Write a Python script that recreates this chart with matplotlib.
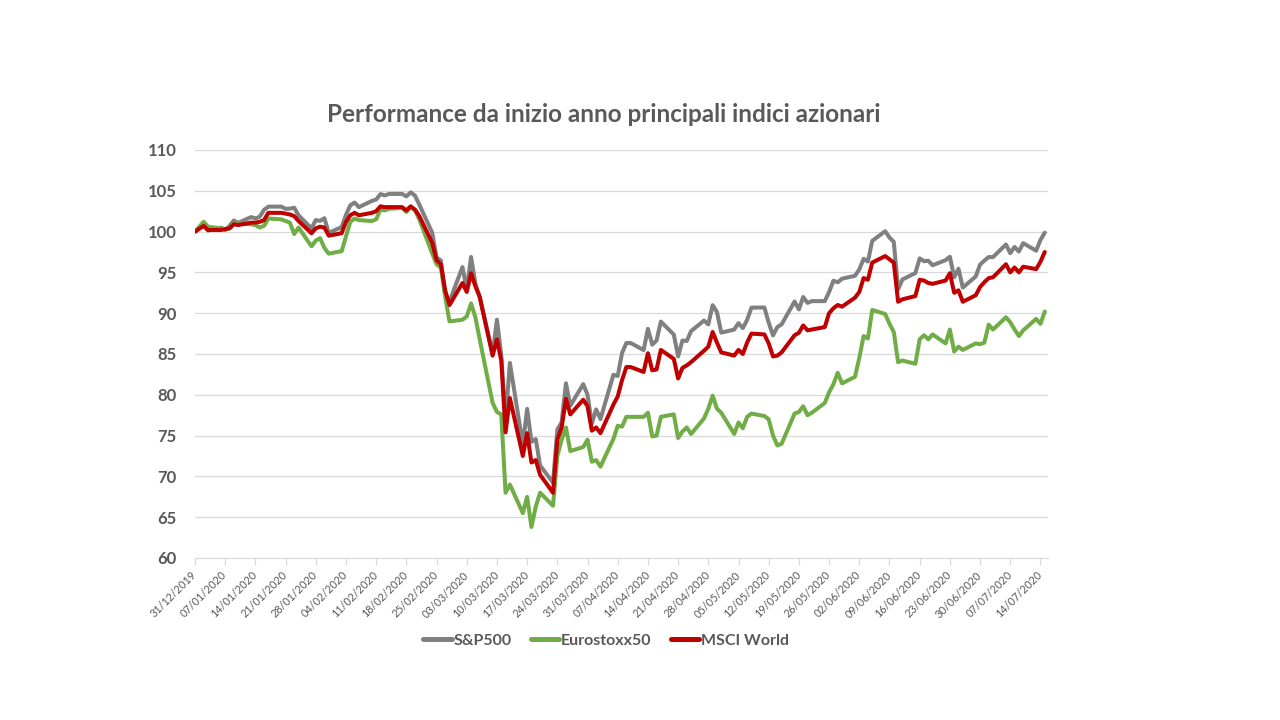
import matplotlib
matplotlib.use("Agg")
import matplotlib.pyplot as plt
import pandas as pd

plt.rcParams['font.family'] = ['Lato', 'DejaVu Sans']

# giorni lavorativi dal 31/12/2019 al 15/07/2020 (senza il 1 gennaio)
dates = pd.bdate_range('2019-12-31', '2020-07-15')
dates = dates[dates != pd.Timestamp('2020-01-01')]

sp500 = [
    100.0,
    # gen
    100.84, 100.13, 100.48, 100.20, 100.69, 101.36, 101.07, 101.78, 101.62, 101.81,
    102.66, 103.06, 103.06, 102.79, 102.82, 102.93, 102.00, 100.40, 101.41, 101.32,
    101.64, 99.84,
    # feb
    100.56, 102.07, 103.22, 103.56, 103.00, 103.76, 103.93, 104.60, 104.43, 104.62,
    104.62, 104.32, 104.81, 104.41, 103.31, 99.85, 96.83, 96.46, 92.20, 91.44,
    # mar
    95.65, 92.96, 96.89, 93.60, 92.00, 85.01, 89.21, 84.85, 76.78, 83.91,
    73.86, 78.28, 74.23, 74.58, 71.34, 69.25, 75.75, 76.62, 81.41, 78.66,
    81.30, 80.00,
    # apr
    76.47, 78.21, 77.03, 82.45, 82.31, 85.12, 86.35, 86.35, 85.48, 88.09,
    86.15, 86.65, 88.97, 87.38, 84.70, 86.65, 86.60, 87.80, 89.10, 88.63,
    90.98, 90.15,
    # mag
    87.62, 87.99, 88.78, 88.17, 89.18, 90.68, 90.70, 88.84, 87.28, 88.29,
    88.64, 91.43, 90.47, 91.98, 91.26, 91.48, 91.48, 92.60, 93.98, 93.78,
    94.23,
    # giu
    94.58, 95.36, 96.66, 96.33, 98.86, 100.05, 99.27, 98.74, 92.92, 94.13,
    94.92, 96.72, 96.37, 96.43, 95.88, 96.50, 96.92, 94.41, 95.45, 93.14,
    94.50, 95.96,
    # lug
    96.44, 96.88, 96.88, 98.42, 97.36, 98.12, 97.56, 98.58, 97.66, 98.97,
    99.87,
]

eurostoxx50 = [
    100.0,
    # gen
    101.2, 100.6, 100.4, 100.3, 100.4, 101.0, 101.0, 100.9, 100.8, 100.5,
    100.7, 101.6, 101.5, 101.3, 101.1, 99.7, 100.5, 98.2, 98.9, 99.2,
    98.0, 97.3,
    # feb
    97.6, 99.4, 101.2, 101.6, 101.4, 101.3, 101.5, 102.7, 102.6, 102.8,
    102.9, 102.4, 103.0, 102.6, 101.5, 97.3, 96.0, 95.6, 92.0, 89.0,
    # mar
    89.2, 89.6, 91.2, 89.5, 86.8, 79.0, 77.9, 77.6, 68.0, 69.0,
    65.5, 67.5, 63.8, 66.3, 68.0, 66.4, 72.5, 74.5, 76.0, 73.1,
    73.6, 74.5,
    # apr
    71.8, 72.0, 71.2, 74.6, 76.2, 76.1, 77.3, 77.3, 77.3, 77.8,
    74.9, 75.0, 77.3, 77.6, 74.7, 75.5, 76.0, 75.2, 77.1, 78.3,
    79.9, 78.3,
    # mag
    77.8, 75.2, 76.6, 75.9, 77.3, 77.7, 77.4, 77.0, 75.0, 73.8,
    74.0, 77.7, 77.9, 78.6, 77.5, 77.8, 79.0, 80.3, 81.3, 82.7,
    81.4,
    # giu
    82.2, 84.5, 87.2, 86.9, 90.4, 89.9, 88.7, 87.7, 84.0, 84.2,
    83.8, 86.8, 87.3, 86.8, 87.4, 86.3, 88.0, 85.3, 85.9, 85.5,
    86.3, 86.2,
    # lug
    86.4, 88.6, 88.0, 89.5, 88.9, 88.0, 87.2, 87.9, 89.3, 88.7,
    90.2,
]

msci_world = [
    100.0,
    # gen
    100.7, 100.2, 100.2, 100.3, 100.4, 100.9, 100.8, 101.1, 101.1, 101.2,
    101.4, 102.3, 102.3, 102.2, 102.1, 101.9, 101.3, 99.8, 100.4, 100.6,
    100.5, 99.5,
    # feb
    99.8, 101.2, 102.0, 102.3, 102.0, 102.3, 102.5, 103.1, 103.0, 103.0,
    103.0, 102.6, 103.1, 102.7, 101.9, 98.6, 96.5, 96.0, 92.8, 91.0,
    # mar
    93.7, 92.6, 94.9, 93.3, 92.0, 84.8, 86.8, 84.2, 75.4, 79.6,
    72.5, 75.3, 71.7, 72.0, 70.2, 68.0, 74.5, 76.0, 79.5, 77.6,
    79.4, 78.6,
    # apr
    75.6, 76.0, 75.3, 78.8, 79.8, 81.8, 83.4, 83.4, 82.8, 85.1,
    83.0, 83.1, 85.5, 84.4, 82.0, 83.3, 83.6, 84.0, 85.4, 85.9,
    87.7, 86.4,
    # mag
    85.2, 84.8, 85.5, 85.0, 86.4, 87.5, 87.4, 86.3, 84.7, 84.8,
    85.2, 87.3, 87.6, 88.5, 87.9, 88.0, 88.3, 90.0, 90.6, 91.0,
    90.8,
    # giu
    91.9, 92.6, 94.3, 94.1, 96.2, 97.0, 96.6, 96.2, 91.4, 91.7,
    92.1, 94.1, 94.0, 93.7, 93.6, 94.0, 94.9, 92.5, 92.8, 91.4,
    92.2, 93.2,
    # lug
    93.8, 94.3, 94.4, 96.0, 95.0, 95.6, 95.0, 95.7, 95.4, 96.3,
    97.5,
]

series = [
    ("S&P500", sp500, "#808080"),
    ("Eurostoxx50", eurostoxx50, "#70AD47"),
    ("MSCI World", msci_world, "#C00000"),
]

tick_dates = pd.date_range('2019-12-31', '2020-07-14', freq='7D')
tick_labels = [d.strftime('%d/%m/%Y') for d in tick_dates]

TEXT = "#595959"

fig = plt.figure(figsize=(12.8, 7.2), dpi=100)
ax = fig.add_axes([195 / 1280, 1 - 558 / 720, (1048 - 195) / 1280, (558 - 150) / 720])

for name, vals, col in series:
    ax.plot(dates, vals, color=col, lw=2.9, label=name,
            solid_joinstyle='round', solid_capstyle='round')

ax.set_ylim(60, 110)
ax.set_yticks(range(60, 111, 5))
ax.set_xlim(pd.Timestamp('2019-12-31'), pd.Timestamp('2020-07-15 18:00'))
ax.set_xticks(tick_dates)
ax.set_xticklabels(tick_labels, rotation=45, ha='right', va='center',
                   rotation_mode='anchor', fontsize=7.8, color=TEXT)

ax.grid(axis='y', color='#d9d9d9', lw=0.9)
ax.set_axisbelow(True)
for s in ['top', 'right', 'left']:
    ax.spines[s].set_visible(False)
ax.spines['bottom'].set_color('#d9d9d9')
ax.tick_params(axis='y', length=0, pad=13, labelsize=12, labelcolor=TEXT)
ax.tick_params(axis='x', length=5, color='#d9d9d9', direction='out', pad=6)
for lbl in ax.get_yticklabels():
    lbl.set_fontweight('bold')

fig.text(604 / 1280, 1 - 115 / 720, "Performance da inizio anno principali indici azionari",
         ha='center', va='center', fontsize=17.5, fontweight='bold', color=TEXT)

leg = fig.legend(loc='center', bbox_to_anchor=(606 / 1280, 1 - 641 / 720), ncol=3,
                 frameon=False, handlelength=1.8, columnspacing=1.2, handletextpad=0.1,
                 prop=dict(weight='bold', size=11.5))
for t in leg.get_texts():
    t.set_color(TEXT)
for h in leg.get_lines():
    h.set_linewidth(3.6)

fig.savefig("out.png", dpi=100)
